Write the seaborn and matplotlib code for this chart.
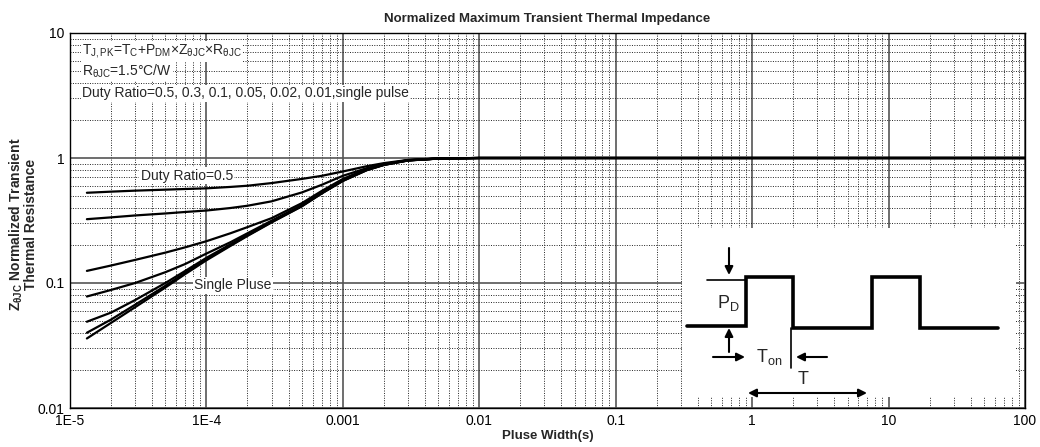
# Normalized maximum transient thermal impedance chart
import numpy as np
import pandas as pd
import matplotlib
matplotlib.use('Agg')
import matplotlib.pyplot as plt
from matplotlib.ticker import FixedLocator, LogLocator, NullFormatter
import seaborn as sns

sns.set_theme(style='white')
plt.rcParams['font.family'] = ['Liberation Sans', 'DejaVu Sans']
plt.rcParams['mathtext.fontset'] = 'custom'
plt.rcParams['mathtext.rm'] = 'Liberation Sans'
plt.rcParams['mathtext.it'] = 'Liberation Sans:italic'
plt.rcParams['mathtext.bf'] = 'Liberation Sans:bold'

# datos
pulse_width = [1.33e-5, 2e-5, 3e-5, 5e-5, 7e-5, 1e-4, 1.5e-4, 2e-4, 3e-4, 5e-4,
               7e-4, 1e-3, 1.5e-3, 2e-3, 3e-3, 5e-3, 1e-2, 100]
z_d05 = [0.527, 0.538, 0.548, 0.558, 0.565, 0.572, 0.587, 0.600, 0.630, 0.680,
         0.720, 0.780, 0.860, 0.910, 0.965, 0.992, 1.0, 1.0]
z_d03 = [0.324, 0.335, 0.347, 0.360, 0.370, 0.380, 0.398, 0.415, 0.450, 0.530,
         0.610, 0.720, 0.830, 0.895, 0.962, 0.990, 1.0, 1.0]
z_d01 = [0.125, 0.138, 0.153, 0.175, 0.193, 0.216, 0.250, 0.280, 0.330, 0.435,
         0.545, 0.680, 0.820, 0.890, 0.960, 0.990, 1.0, 1.0]
z_d005 = [0.078, 0.088, 0.100, 0.122, 0.142, 0.172, 0.212, 0.250, 0.315, 0.420,
          0.530, 0.665, 0.810, 0.886, 0.958, 0.990, 1.0, 1.0]
z_d002 = [0.049, 0.058, 0.073, 0.100, 0.125, 0.159, 0.204, 0.244, 0.310, 0.415,
          0.525, 0.660, 0.805, 0.883, 0.957, 0.990, 1.0, 1.0]
z_d001 = [0.040, 0.051, 0.067, 0.095, 0.121, 0.155, 0.200, 0.240, 0.307, 0.412,
          0.522, 0.657, 0.800, 0.880, 0.955, 0.990, 1.0, 1.0]
z_single = [0.036, 0.048, 0.064, 0.092, 0.118, 0.152, 0.198, 0.238, 0.305, 0.410,
            0.520, 0.655, 0.800, 0.880, 0.955, 0.990, 1.0, 1.0]
duty_labels = ['0.5', '0.3', '0.1', '0.05', '0.02', '0.01', 'single']

x_ticks = [1e-5, 1e-4, 1e-3, 1e-2, 0.1, 1, 10, 100]
x_tick_labels = ['1E-5', '1E-4', '0.001', '0.01', '0.1', '1', '10', '100']
y_ticks = [0.01, 0.1, 1, 10]
y_tick_labels = ['0.01', '0.1', '1', '10']

# esquema de pulsos (unidades propias del recuadro)
wave_t = [5, 64, 64, 111, 111, 190, 190, 238, 238, 316]
wave_level = [71, 71, 120, 120, 69, 69, 120, 120, 69, 69]

series = [z_d05, z_d03, z_d01, z_d005, z_d002, z_d001, z_single]
df = pd.concat([pd.DataFrame({'t': pulse_width, 'z': s, 'duty': d})
                for s, d in zip(series, duty_labels)], ignore_index=True)

fig = plt.figure(figsize=(10.4, 4.47), dpi=100)
ax = fig.add_axes([70/1040, 39/447, 955/1040, 375/447])
ax.set_xscale('log')
ax.set_yscale('log')

sns.lineplot(data=df, x='t', y='z', hue='duty', palette=['black']*7,
             legend=False, estimator=None, sort=False, lw=1.6, ax=ax)

ax.set_xlim(1e-5, 100)
ax.set_ylim(0.01, 10)
ax.xaxis.set_major_locator(FixedLocator(x_ticks))
ax.set_xticklabels(x_tick_labels)
ax.yaxis.set_major_locator(FixedLocator(y_ticks))
ax.set_yticklabels(y_tick_labels)
ax.xaxis.set_minor_locator(LogLocator(base=10, subs=np.arange(2, 10), numticks=20))
ax.yaxis.set_minor_locator(LogLocator(base=10, subs=np.arange(2, 10), numticks=20))
ax.xaxis.set_minor_formatter(NullFormatter())
ax.yaxis.set_minor_formatter(NullFormatter())
ax.tick_params(which='both', length=0, labelsize=10, colors='black')
ax.tick_params(axis='x', pad=4)
ax.tick_params(axis='y', pad=4)

ax.grid(which='major', color='#555555', lw=1.2, ls='-')
ax.grid(which='minor', color='#222222', lw=0.7, ls=(0, (1, 1.5)))
for sp in ax.spines.values():
    sp.set_color('black')
    sp.set_linewidth(1.0)

ax.set_title('Normalized Maximum Transient Thermal Impedance',
             fontsize=9.5, fontweight='bold', pad=8)
ax.set_xlabel('Pluse Width(s)', fontsize=9.5, fontweight='bold', labelpad=2)
ax.set_ylabel(r'$\mathbf{Z_{\theta JC}}$ Normalized Transient' + '\n' + 'Thermal Resistance',
              fontsize=10, fontweight='bold', linespacing=0.9)
ax.yaxis.set_label_coords(-0.034, 0.49)

box = dict(boxstyle='square,pad=0.1', fc='white', ec='none')
ax.text(0.0126, 0.943, r'T$_{\rm J,PK}$=T$_{\rm C}$+P$_{\rm DM}$×Z$_{\rm θJC}$×R$_{\rm θJC}$',
        transform=ax.transAxes, fontsize=10, va='baseline', bbox=box)
ax.text(0.0126, 0.887, r'R$_{\rm θJC}$=1.5°C/W',
        transform=ax.transAxes, fontsize=10, va='baseline', bbox=box)
ax.text(0.0126, 0.829, 'Duty Ratio=0.5, 0.3, 0.1, 0.05, 0.02, 0.01,single pulse',
        transform=ax.transAxes, fontsize=10, va='baseline', bbox=box)
ax.text(3.3e-5, 0.72, 'Duty Ratio=0.5', fontsize=10, va='center', bbox=box)
ax.text(8.1e-5, 0.096, 'Single Pluse', fontsize=10, va='center', bbox=box)

# recuadro con el diagrama de pulsos
ins = fig.add_axes([682/1040, 50/447, 334/1040, 169/447], zorder=3)
ins.set_facecolor('white')
ins.set_xlim(0, 334)
ins.set_ylim(0, 169)
ins.set_xticks([])
ins.set_yticks([])
for sp in ins.spines.values():
    sp.set_visible(False)

ins.plot(wave_t, wave_level, color='black', lw=2.6, solid_joinstyle='miter')
ins.plot([25, 64], [117, 117], color='black', lw=1.2)
ins.plot([109, 109], [69, 29], color='black', lw=1.2)

arr = dict(arrowstyle='-|>', color='black', lw=1.5, mutation_scale=12,
           shrinkA=0, shrinkB=0)
ins.annotate('', xy=(47, 122), xytext=(47, 149), arrowprops=arr)
ins.annotate('', xy=(47, 69), xytext=(47, 45), arrowprops=arr)
ins.annotate('', xy=(63, 40), xytext=(31, 40), arrowprops=arr)
ins.annotate('', xy=(114, 40), xytext=(145, 40), arrowprops=arr)
ins.annotate('', xy=(185, 4), xytext=(66, 4), annotation_clip=False,
             arrowprops=dict(arr, arrowstyle='<|-|>'))

ins.text(35, 94, r'P$_{\rm D}$', fontsize=13, va='center')
ins.text(74, 40, r'T$_{\rm on}$', fontsize=13, va='center')
ins.text(121, 17, 'T', fontsize=13, va='center', ha='center')

fig.savefig('out.png', dpi=100)
